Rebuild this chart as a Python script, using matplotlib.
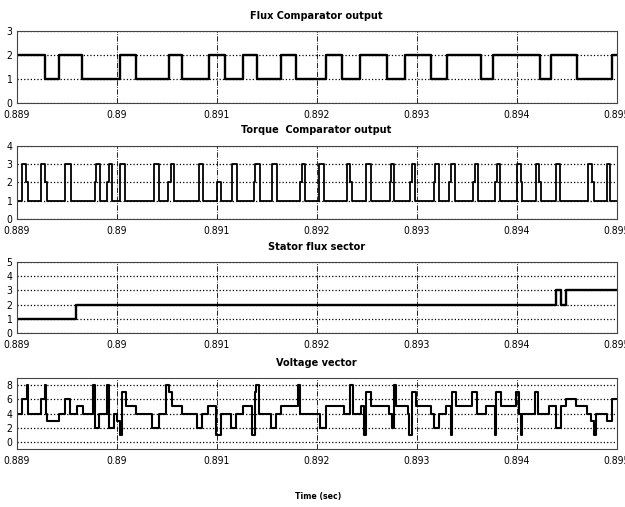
import numpy as np
import matplotlib
matplotlib.use('Agg')
import matplotlib.pyplot as plt

plt.rcParams['font.family'] = ['DejaVu Sans']
plt.rcParams['font.stretch'] = 'condensed'

# instante inicial (s) - tempos abaixo em ms a partir de t0
t0 = 0.889
t_fim = 0.895

# Saida do comparador de fluxo
fluxo_t = [0.0, 0.287, 0.42, 0.653, 1.037, 1.193, 1.527, 1.653, 1.92, 2.08, 2.26, 2.403,
           2.643, 2.793, 3.093, 3.253, 3.437, 3.70, 3.887, 4.143, 4.303, 4.643, 4.767,
           5.237, 5.343, 5.60, 5.96, 6.0]
fluxo_v = [2, 1, 2, 1, 2, 1, 2, 1, 2, 1, 2, 1,
           2, 1, 2, 1, 2, 1, 2, 1, 2, 1, 2,
           1, 2, 1, 2, 2]

# Saida do comparador de torque
torque_t = [0.0, 0.058, 0.095, 0.119, 0.242, 0.283, 0.303, 0.486, 0.540,
            0.784, 0.797, 0.831, 0.904, 0.924, 0.958, 1.038, 1.088,
            1.372, 1.422, 1.513, 1.540, 1.573, 1.824, 1.867, 2.005, 2.040,
            2.150, 2.200, 2.370, 2.385, 2.430, 2.550, 2.600, 2.830, 2.850, 2.890,
            3.020, 3.070, 3.300, 3.330, 3.355, 3.500, 3.540, 3.730, 3.745, 3.775,
            3.930, 3.950, 3.985, 4.170, 4.185, 4.230, 4.330, 4.345, 4.380,
            4.560, 4.580, 4.610, 4.780, 4.800, 4.840, 5.000, 5.040, 5.055,
            5.190, 5.225, 5.240, 5.390, 5.430, 5.710, 5.755, 5.775, 5.900, 5.940, 6.0]
torque_v = [1, 3, 2, 1, 3, 2, 1, 3, 1,
            2, 3, 1, 2, 3, 1, 3, 1,
            3, 1, 2, 3, 1, 3, 1, 2, 1,
            3, 1, 2, 3, 1, 3, 1, 2, 3, 1,
            3, 1, 3, 2, 1, 3, 1, 2, 3, 1,
            2, 3, 1, 2, 3, 1, 2, 3, 1,
            2, 3, 1, 2, 3, 1, 3, 2, 1,
            3, 2, 1, 3, 1, 3, 2, 1, 3, 1, 1]

# Setor do fluxo do estator
setor_t = [0.0, 0.59, 5.39, 5.44, 5.49, 6.0]
setor_v = [1, 2, 3, 2, 3, 3]

# Vetor de tensao
tensao_t = [0.0, 0.058, 0.102, 0.118, 0.241, 0.281, 0.294, 0.308, 0.427, 0.484, 0.534,
            0.600, 0.660, 0.767, 0.783, 0.827, 0.900, 0.923, 0.973, 1.006, 1.033,
            1.056, 1.093, 1.193, 1.359, 1.425, 1.499, 1.525, 1.555, 1.659, 1.808,
            1.858, 1.914, 1.991, 2.048, 2.148, 2.198, 2.264, 2.357, 2.380, 2.397,
            2.423, 2.547, 2.597, 2.647, 2.812, 2.839, 3.030, 3.090, 3.270, 3.335,
            3.361, 3.445, 3.478, 3.495, 3.545, 3.728, 3.754, 3.777, 3.794, 3.910,
            3.927, 3.954, 3.999, 4.143, 4.177, 4.227, 4.293, 4.343, 4.359, 4.393,
            4.559, 4.609, 4.693, 4.786, 4.799, 4.843, 4.992, 5.026, 5.043, 5.058,
            5.185, 5.218, 5.325, 5.400, 5.442, 5.491, 5.591, 5.708, 5.741, 5.774,
            5.791, 5.907, 5.957, 6.0]
tensao_v = [4, 6, 8, 4, 6, 8, 4, 3, 4, 6, 4,
            5, 4, 8, 2, 4, 8, 2, 4, 3, 1,
            7, 5, 4, 2, 4, 8, 7, 5, 4, 2,
            4, 5, 1, 4, 2, 4, 5, 1, 7, 8,
            4, 2, 4, 5, 8, 4, 2, 5, 4, 8,
            4, 5, 1, 7, 5, 4, 2, 8, 5, 4,
            1, 7, 5, 4, 2, 4, 5, 1, 7, 5,
            7, 4, 5, 1, 7, 5, 7, 4, 1, 4,
            7, 4, 5, 2, 5, 6, 5, 4, 3, 1,
            4, 3, 6, 6]

titulos = ['Flux Comparator output', 'Torque  Comparator output',
           'Stator flux sector', 'Voltage vector']
dados = [(fluxo_t, fluxo_v), (torque_t, torque_v), (setor_t, setor_v), (tensao_t, tensao_v)]
limites_y = [(0, 3), (0, 4), (0, 5), (-1, 9)]
ticks_y = [[0, 1, 2, 3], [0, 1, 2, 3, 4], [0, 1, 2, 3, 4, 5], [0, 2, 4, 6, 8]]
larguras = [1.7, 1.3, 1.7, 1.5]

x_ticks = [0.889, 0.890, 0.891, 0.892, 0.893, 0.894, 0.895]
x_labels = ['0.889', '0.89', '0.891', '0.892', '0.893', '0.894', '0.895']

# posicoes dos eixos em pixels (topo, base)
pos_px = [(31, 103), (146, 219), (262, 333), (378, 449)]
W, H = 625, 507

fig = plt.figure(figsize=(6.25, 5.07), dpi=100)

for i in range(4):
    topo, base = pos_px[i]
    ax = fig.add_axes([16.5 / W, (H - base) / H, 600 / W, (base - topo) / H])
    t = t0 + np.array(dados[i][0]) / 1000.0
    ax.step(t, dados[i][1], where='post', color='black', lw=larguras[i])
    ax.set_xlim(t0, t_fim)
    ax.set_ylim(*limites_y[i])
    ax.set_yticks(ticks_y[i])
    ax.set_xticks(x_ticks)
    ax.set_xticklabels(x_labels)
    ax.xaxis.grid(True, linestyle='-.', color='black', lw=0.6)
    ax.yaxis.grid(True, linestyle=':', color='black', lw=0.9)
    ax.tick_params(axis='x', length=0, labelsize=7.5, pad=5)
    ax.tick_params(axis='y', length=0, labelsize=7.5, pad=3)
    for s in ax.spines.values():
        s.set_linewidth(0.8)
        s.set_color('#444444')
    ax.set_title(titulos[i], fontsize=7.8, fontweight='bold', pad=9)

fig.text(318 / W, 1 - 496 / H, 'Time (sec)', ha='center', va='center', fontsize=6.3, fontweight='bold')

fig.savefig('out.png', dpi=100)
